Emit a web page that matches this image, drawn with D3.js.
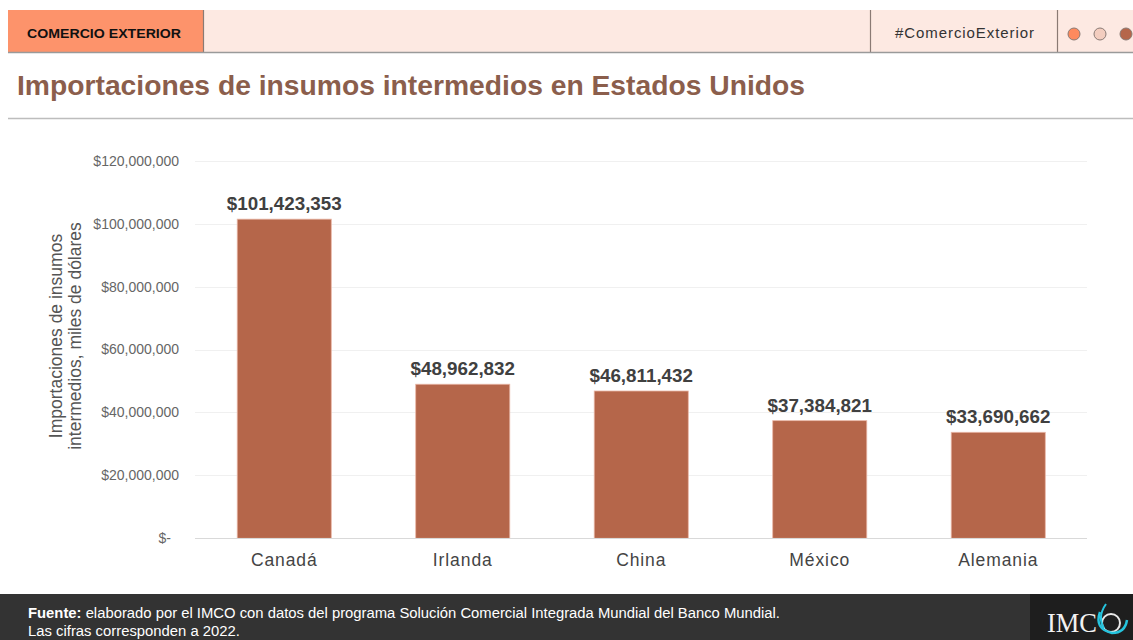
<!DOCTYPE html>
<html><head><meta charset="utf-8">
<script src="https://cdn.jsdelivr.net/npm/d3@7"></script>
<style>body{margin:0;background:#fff;}svg{display:block;}</style>
</head><body>
<svg id="c" width="1133" height="640"></svg>
<script>
const categories = ["Canadá","Irlanda","China","México","Alemania"];
const values = [101423353, 48962832, 46811432, 37384821, 33690662];
const yTicks = [0, 20000000, 40000000, 60000000, 80000000, 100000000, 120000000];

const svg = d3.select("#c");
const F = "'Liberation Sans', Arial, sans-serif";

// Header
svg.append("rect").attr("x",8).attr("y",10).attr("width",1125).attr("height",42).attr("fill","#fde9e2");
svg.append("rect").attr("x",8).attr("y",10).attr("width",195).attr("height",42).attr("fill","#fd936b");
[203.5,870.5,1057.5].forEach(xx=>{
  svg.append("line").attr("x1",xx).attr("x2",xx).attr("y1",10).attr("y2",52).attr("stroke","#8a7a74").attr("stroke-width",1.2);
});
svg.append("line").attr("x1",8).attr("x2",1133).attr("y1",52.5).attr("y2",52.5).attr("stroke","#9a9a9a").attr("stroke-width",1.5);
svg.append("text").attr("x",27).attr("y",38).attr("font-family",F).attr("font-weight","bold").attr("font-size",13.5)
  .attr("fill","#111").attr("textLength",154).attr("lengthAdjust","spacingAndGlyphs").text("COMERCIO EXTERIOR");
svg.append("text").attr("x",895).attr("y",38).attr("font-family",F).attr("font-size",15).attr("fill","#333")
  .attr("textLength",139).attr("lengthAdjust","spacing").text("#ComercioExterior");
[["#fd8a5e",1074],["#f3cdbf",1100],["#b5664a",1126]].forEach(([c,x])=>{
  svg.append("circle").attr("cx",x).attr("cy",34).attr("r",6).attr("fill",c).attr("stroke","#8a7a74").attr("stroke-width",1);
});

// Title
svg.append("text").attr("x",17).attr("y",95).attr("font-family",F).attr("font-weight","bold").attr("font-size",27.5)
  .attr("fill","#8b5e4c").attr("textLength",788).attr("lengthAdjust","spacingAndGlyphs")
  .text("Importaciones de insumos intermedios en Estados Unidos");
svg.append("line").attr("x1",8).attr("x2",1133).attr("y1",118.5).attr("y2",118.5).attr("stroke","#bdbdbd").attr("stroke-width",1.5);

// Chart
const x = d3.scaleBand().domain(categories).range([195,1087.5]).paddingInner(0.473).paddingOuter(0.2365);
const y = d3.scaleLinear().domain([0,120000000]).range([538.3,160.7]);

const g = svg.append("g");
g.selectAll(".grid").data(yTicks.filter(d=>d>0)).join("line")
  .attr("x1",195).attr("x2",1087).attr("y1",d=>Math.round(y(d))+0.5).attr("y2",d=>Math.round(y(d))+0.5)
  .attr("stroke","#f0f0f0").attr("stroke-width",1);

const yAxis = d3.axisLeft(y).tickValues(yTicks).tickSize(0).tickPadding(0)
  .tickFormat(d=> d===0 ? "$-" : "$" + d3.format(",")(d));
const ya = svg.append("g").attr("transform","translate(179,0)").call(yAxis);
ya.select(".domain").remove();
ya.selectAll("text").attr("font-family",F).attr("font-size",14).attr("fill","#666").attr("dy","0.32em");
ya.selectAll("text").filter(d=>d===0).attr("x",-8);

g.selectAll(".bar").data(values).join("rect")
  .attr("x",(d,i)=>x(categories[i])).attr("width",x.bandwidth())
  .attr("y",d=>y(d)).attr("height",d=>y(0)-y(d))
  .attr("fill","#b5664a").attr("stroke","#e9b7a6").attr("stroke-width",0.8);

svg.append("line").attr("x1",195).attr("x2",1087).attr("y1",538.5).attr("y2",538.5).attr("stroke","#d9d9d9").attr("stroke-width",1.2);

g.selectAll(".val").data(values).join("text")
  .attr("x",(d,i)=>x(categories[i])+x.bandwidth()/2).attr("y",d=>y(d)-9)
  .attr("text-anchor","middle").attr("font-family",F).attr("font-weight","bold").attr("font-size",18.8).attr("fill","#404040")
  .text(d=>"$"+d3.format(",")(d));

const xAxis = d3.axisBottom(x).tickSize(0).tickPadding(0);
const xa = svg.append("g").attr("transform","translate(0,566)").call(xAxis);
xa.select(".domain").remove();
xa.selectAll("text").attr("font-family",F).attr("font-size",17.5).attr("fill","#444").attr("dy",0).attr("letter-spacing",0.9);

const yt = svg.append("text").attr("transform","translate(67,336) rotate(-90)").attr("text-anchor","middle")
  .attr("font-family",F).attr("font-size",17.5).attr("fill","#555");
yt.append("tspan").attr("x",0).attr("dy","-0.3em").text("Importaciones de insumos");
yt.append("tspan").attr("x",0).attr("dy","1.08em").text("intermedios, miles de dólares");

// Footer
svg.append("rect").attr("x",0).attr("y",594).attr("width",1133).attr("height",46).attr("fill","#333333");
svg.append("rect").attr("x",1030).attr("y",594).attr("width",103).attr("height",46).attr("fill","#1e1e1e");
const ft = svg.append("text").attr("x",28).attr("y",618).attr("font-family",F).attr("font-size",15.5).attr("fill","#fff")
  .attr("textLength",752).attr("lengthAdjust","spacingAndGlyphs");
ft.append("tspan").attr("font-weight","bold").text("Fuente: ");
ft.append("tspan").text("elaborado por el IMCO con datos del programa Solución Comercial Integrada Mundial del Banco Mundial.");
svg.append("text").attr("x",28).attr("y",636).attr("font-family",F).attr("font-size",15.5).attr("fill","#fff")
  .attr("textLength",212).attr("lengthAdjust","spacingAndGlyphs").text("Las cifras corresponden a 2022.");
svg.append("text").attr("x",1047).attr("y",632).attr("font-family","'Liberation Serif', 'DejaVu Serif', serif").attr("font-size",27)
  .attr("fill","#f2f2f2").attr("textLength",50).attr("lengthAdjust","spacingAndGlyphs").text("IMC");
svg.append("circle").attr("cx",1111).attr("cy",623).attr("r",9).attr("fill","none").attr("stroke","#e8e8e8").attr("stroke-width",2);
svg.append("path").attr("d","M1100,612 Q1094,629 1112,633 Q1125,633 1127,620").attr("fill","none").attr("stroke","#25c4de").attr("stroke-width",2.5);
svg.append("path").attr("d","M1106,604 Q1097,617 1104,628").attr("fill","none").attr("stroke","#25c4de").attr("stroke-width",2);
</script>
</body></html>
